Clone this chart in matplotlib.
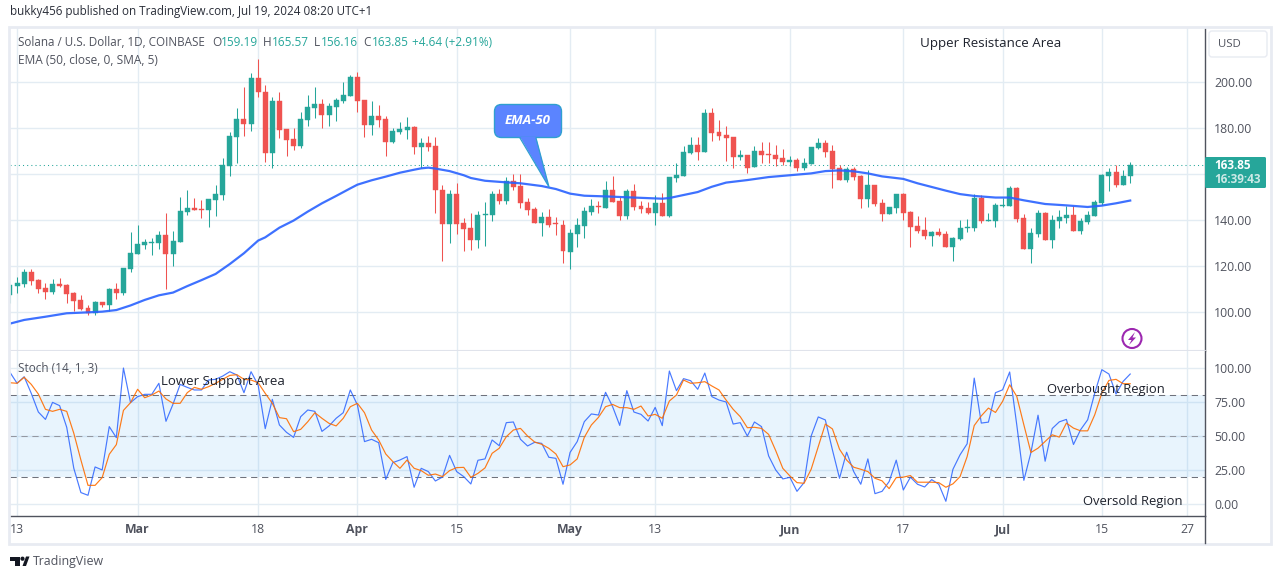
import numpy as np
import matplotlib
matplotlib.use("Agg")
import matplotlib.pyplot as plt
from matplotlib.patches import FancyBboxPatch, Polygon, Circle, Rectangle

W, H = 1281, 579

# candles, one per day, first one is Feb 12 2024
opens = [107.5, 111.6, 112.3, 117.7, 114, 110.7, 108.8, 112.3, 111.9, 108.4,
         105.4, 101.7, 99.9, 104.5, 103.2, 110.1, 108.4, 118.8, 125.5, 129.3,
         130.3, 130.1, 133.6, 125.5, 130.6, 143.6, 145.4, 144.9, 144.5, 148.8,
         151, 163.8, 176.2, 184.1, 181.9, 201.9, 195.8, 169.3, 191.9, 179.7,
         175.4, 172.3, 183.6, 188.8, 190.6, 185.8, 189.3, 191.9, 194.1, 202.3,
         192.3, 181.4, 185.4, 184.1, 174.1, 178.4, 179.3, 180.6, 172, 173.6,
         172.3, 153.2, 138.4, 151.4, 138.8, 136.7, 131.4, 142.3, 142.3, 151.4,
         148.4, 157.1, 154.9, 148, 144.9, 138.8, 141.4, 138.8, 138, 126.2,
         134.1, 137.5, 143.6, 146.2, 145.4, 153.2, 148.4, 141.9, 152.8, 146.2,
         145.4, 143.2, 147.5, 141.9, 158.4, 159.3, 169.3, 172.8, 169.7, 186.7,
         178.4, 177.1, 176.2, 167.5, 168.4, 163.2, 170.1, 168.8, 168.4, 167.1,
         165.4, 166.2, 162.8, 164.5, 171.4, 173.6, 170.1, 162.8, 157.5, 162.3,
         159.3, 149.3, 155.4, 147.5, 142.8, 145.4, 151.4, 143.6, 137.5, 135.8,
         133.2, 134.9, 134.1, 128.4, 131.9, 136.7, 136.7, 149.7, 139.7, 139.7,
         146.2, 146.2, 154.1, 141, 127.5, 134.1, 143.2, 131.4, 139.7, 141,
         142.3, 135.4, 139.3, 141.9, 147.5, 159.3, 161, 155.4, 159.19]
highs = [112, 115.5, 118.8, 118.8, 114.6, 112.9, 114.6, 114.9, 112.5, 108.8,
         107.4, 103.2, 104.9, 104.5, 110.7, 112.8, 119.3, 134.9, 138, 131.9,
         132.2, 135.4, 143.3, 135.4, 150.1, 153.2, 149.7, 148.8, 149.3, 155.4,
         167.1, 178.4, 188.8, 198, 204.1, 210.1, 198.8, 193.6, 195.8, 179.7,
         180.1, 187.1, 194.5, 198, 192.8, 191, 193.2, 200.1, 203.2, 204.5,
         192.3, 191.9, 190.1, 185.4, 180.1, 182.8, 184.9, 181, 175.8, 176.7,
         176.2, 155.4, 153.2, 156.2, 141, 143.2, 144.1, 148, 152.8, 153.6,
         158.8, 160.1, 160.1, 149.7, 145.8, 143.6, 144.9, 141.4, 140.1, 136.2,
         141, 145.8, 149.3, 148.4, 157.1, 159.3, 150.1, 153.6, 155.8, 148.4,
         148, 151, 151.9, 158.8, 164.9, 172.3, 176.2, 176.2, 188.4, 188.8,
         183.6, 181, 176.2, 170.6, 168.4, 172.3, 174.1, 174.1, 172.8, 171,
         168, 167.1, 167.1, 171.9, 175.8, 175, 172.8, 164.1, 163.2, 163.2,
         159.7, 161.9, 155.4, 149.3, 145.8, 151.4, 151.9, 144.1, 141.9, 141.4,
         135.4, 136.7, 135.4, 132.8, 140.1, 140.6, 151.4, 151, 143.2, 147.5,
         149.7, 154.9, 154.5, 142.8, 136.7, 144.5, 143.6, 142.3, 144.5, 146.2,
         146.2, 141, 144.1, 148.8, 160.1, 162.8, 164.1, 161.9, 165.57]
lows = [104, 108.3, 111.2, 111.9, 108.5, 105.8, 108.1, 110.9, 104.2, 100.6,
        101, 99, 99, 102.3, 100.6, 105.9, 107.7, 117.7, 125.5, 127.5,
        124.9, 127.5, 110.1, 120.1, 130.6, 142.3, 144.3, 141, 137.1, 141.9,
        148.8, 159.3, 164.9, 176.7, 178.8, 193.6, 165.4, 162.8, 175.8, 168,
        170.6, 171.4, 181, 184.5, 180.1, 181, 183.2, 191, 194.1, 187.1,
        176.2, 177.1, 180.6, 168, 173.6, 177.5, 175.4, 168.8, 162.8, 170.1,
        143.2, 122.3, 130.1, 134.1, 126.7, 127.1, 128, 128.8, 139.7, 147.1,
        147.1, 153.2, 145.4, 142.3, 138.8, 133.2, 137.1, 133.6, 121.4, 118.8,
        128.4, 132.3, 142.3, 143.2, 145.4, 148, 140.1, 140.6, 144.5, 143.2,
        142.8, 138, 141.9, 141.4, 156.7, 159.3, 168.8, 166.2, 169.7, 174.5,
        174.9, 165.8, 162.8, 166.2, 160.6, 163.2, 164.9, 164.9, 163.6, 164.1,
        163.6, 161.4, 161.9, 164.5, 171, 167.5, 154.1, 157.5, 156.7, 157.5,
        145.4, 145.8, 146.2, 139.7, 142.8, 143.2, 140.1, 128.4, 134.5, 131.9,
        128.8, 133.2, 128.4, 122.3, 131.4, 134.9, 135.4, 138.8, 139.7, 137.1,
        145.8, 146.2, 139.3, 127.5, 121.4, 132.8, 131.4, 128, 136.7, 138.8,
        135.4, 134.1, 138.4, 141.9, 146.7, 152.8, 154.5, 155.4, 156.16]
closes = [111.9, 112.8, 117.7, 113.6, 110.1, 108.8, 112.3, 111.4, 108.1, 105.1,
          101.6, 99.9, 104.5, 103.3, 110.1, 108.4, 119.3, 125.8, 129.7, 130.6,
          130.6, 133.6, 125.5, 131, 144.1, 145.4, 144.3, 144.5, 149.3, 151.4,
          164.1, 176.7, 184.1, 181.9, 201.9, 195.8, 169.3, 191.9, 179.3, 174.9,
          172.3, 184.1, 189.3, 190.6, 185.8, 189.7, 192.3, 194.5, 202.3, 191.9,
          181.4, 185.4, 183.6, 174.1, 178.8, 179.7, 180.6, 171.9, 173.6, 171.9,
          153.2, 138.4, 151.4, 138.4, 136.2, 131.4, 142.3, 142.8, 151.4, 148.4,
          157.1, 154.5, 147.5, 144.5, 138.8, 141.4, 138, 138.4, 126.7, 134.5,
          138, 144.1, 146.2, 145.9, 153.2, 148, 141.9, 152.8, 145.8, 144.9,
          143.2, 147.5, 141.9, 158.8, 159.7, 169.7, 172.8, 169.7, 186.7, 178,
          176.7, 175.8, 167.5, 168.4, 162.8, 170.1, 168.4, 168.4, 166.7, 165.4,
          166.2, 162.8, 164.9, 171.9, 173.6, 169.7, 162.3, 157.5, 162.3, 158.8,
          149.3, 155.4, 147.1, 142.8, 145.8, 151.4, 143.2, 137.1, 135.4, 133.2,
          134.9, 133.6, 128.4, 132.3, 136.7, 137.1, 149.7, 139.7, 140.1, 146.7,
          146.7, 154.1, 140.6, 127.5, 134.5, 143.2, 131.4, 140.1, 141.4, 142.3,
          135.4, 139.7, 142.3, 148, 159.7, 161, 155.4, 159.3, 163.85]

ema_days = [0, 2, 5, 8, 11, 13, 15, 17, 19, 21, 23, 25, 27, 29, 31, 33, 35, 36, 38, 40,
            42, 44, 46, 48, 49, 51, 53, 55, 57, 58, 59, 60, 62, 64, 65, 67, 70, 72, 75, 77,
            79, 81, 84, 88, 92, 93, 95, 97, 99, 101, 104, 107, 110, 113, 115, 117, 119, 121, 123, 126,
            128, 130, 132, 134, 136, 139, 141, 143, 146, 149, 152, 154, 156, 158]
ema_values = [95.1, 96.7, 98.1, 99.6, 100, 100.3, 101, 103, 105.4, 107.4,
              108.6, 111.4, 114, 116.7, 121, 125.7, 131.2, 132.6, 136.8, 139.9,
              143.8, 147.4, 150.6, 153.9, 155.5, 157.4, 159, 160.7, 162, 162.6,
              162.9, 162.5, 161.4, 159.6, 158.4, 157.2, 156.5, 156.1, 154.9, 153.6,
              151.6, 150.7, 150.4, 149.9, 149.4, 149.7, 151, 152.3, 154.6, 156.4,
              157.5, 158.8, 159.6, 160.4, 161.4, 161.7, 161.3, 160.4, 159.1, 158,
              156.1, 154.5, 152.9, 151.4, 150.6, 149.9, 149.9, 148.7, 147.1, 146.5,
              145.8, 146.4, 147.4, 148.6]

stoch_k = [96.8, 88.8, 93.6, 81.4, 67.7, 62.3, 74.8, 72.4, 56.5, 26.4,
           8.6, 6.6, 27.4, 25.2, 57, 48.9, 100, 74.6, 79, 80.7,
           80.7, 88.8, 60.9, 73.6, 88, 85.8, 83.9, 83.9, 91.2, 91.7,
           94.1, 97.3, 94.9, 81.9, 97.3, 87.5, 55.5, 77, 58.2, 52.8,
           49.1, 64.3, 69.2, 68.2, 53.5, 57.5, 63.1, 67.2, 83.9, 72.9,
           46, 47.7, 45.2, 18.3, 30.6, 32.5, 35, 12.5, 26.4, 24,
           17.1, 20, 35.9, 24, 20.3, 14.9, 32.3, 33.3, 47.2, 43,
           59.9, 60.4, 47.7, 42.8, 45.5, 44.7, 34.5, 33.7, 14.7, 38.1,
           46, 60.6, 66.3, 65.5, 82.2, 71.6, 57.9, 83.4, 67.7, 66,
           61.1, 71.1, 57.7, 97.8, 83.4, 92.2, 90.7, 84.4, 96.3, 79,
           76.5, 75.1, 58.9, 59.9, 50.1, 60.4, 57, 35.5, 25.2, 18.6,
           19.8, 9.5, 15.9, 50.1, 64.1, 61.9, 39.9, 19.1, 38.2, 24,
           14.7, 33.3, 7.8, 9.5, 16.7, 32.4, 10.5, 19.9, 14.7, 12.7,
           18.1, 14.7, 2.2, 25.7, 36.3, 44.4, 92.6, 59.6, 60.3, 81.9,
           84, 97.1, 58.3, 17.6, 38, 65.4, 31.6, 55.6, 60.5, 62.3,
           43.9, 54.7, 62, 81.6, 98.8, 95.6, 80.9, 90.2, 95.6]
stoch_d = [89.2, 88.8, 93.2, 88, 80.9, 69.7, 68.2, 69.7, 68.2, 52.1,
           32.5, 13.9, 13.9, 19.6, 36.7, 43.8, 68.9, 74.6, 84.4, 78.2,
           80.2, 83.1, 77.3, 74.1, 74.1, 81.9, 85.8, 84.4, 86.3, 88.8,
           91.7, 94.6, 95.1, 91.7, 91.2, 89.2, 81.4, 74.1, 63.6, 62.8,
           53.3, 55, 60.6, 67.2, 63.1, 59.4, 57.5, 63.1, 71.6, 74.1,
           67.2, 54.5, 47.2, 36.9, 31.3, 26.4, 32.5, 26.4, 24.7, 21.3,
           22.2, 20.3, 24.7, 26.9, 27.1, 19.8, 22.7, 26.7, 37.4, 41.1,
           49.6, 54.5, 55.7, 50.1, 45.7, 44, 41.1, 36.9, 27.6, 28.9,
           33.3, 49.1, 58.2, 63.8, 71.6, 73.3, 70.9, 70.9, 69.7, 72.1,
           64.8, 66, 63.1, 75.8, 80.2, 91.2, 88.8, 89.2, 90, 86.8,
           83.9, 76.5, 69.7, 64.3, 56.2, 56.5, 55.7, 51.3, 39.4, 26.4,
           20.8, 15.9, 15.4, 25.7, 42.3, 58.9, 55.3, 40.4, 32.5, 27.2,
           25.7, 24, 19.1, 17.2, 11.5, 19.6, 19.9, 21.1, 16.2, 16.2,
           16.2, 15.9, 12.5, 15, 20.3, 35, 57.8, 64.9, 70.6, 67.4,
           75.5, 87.7, 79.2, 58.3, 38, 41.2, 46.1, 51, 49.3, 59.6,
           55.9, 53.9, 53.9, 65.7, 81.6, 90.9, 91.7, 88.5, 88.5]

date_ticks = [1, 18, 35, 49, 63, 79, 91, 110, 126, 140, 154, 166]
date_labels = ["13", "Mar", "18", "Apr", "15", "May", "13", "Jun", "17", "Jul", "15", "27"]
price_ticks = [100, 120, 140, 160, 180, 200]
stoch_ticks = [0, 25, 50, 75, 100]
last_price = 163.85

UP = "#26a69a"
DOWN = "#ef5350"
GRID = "#e3ecf3"
TXT = "#50535e"

plt.rcParams["font.family"] = ["Open Sans", "DejaVu Sans"]


def pane(x0, y0, x1, y1):
    return fig.add_axes([x0 / W, 1 - y1 / H, (x1 - x0) / W, (y1 - y0) / H])


fig = plt.figure(figsize=(W / 100, H / 100), dpi=100, facecolor="white")

# price pane
ax = pane(10, 28, 1205, 351)
days = np.arange(len(opens))
colors = [UP if c >= o else DOWN for o, c in zip(opens, closes)]
ax.vlines(days, lows, highs, colors=colors, lw=0.75, zorder=3)
ax.bar(days, np.abs(np.array(closes) - np.array(opens)), bottom=np.minimum(opens, closes),
       width=0.7, color=colors, edgecolor=colors, lw=0.3, zorder=4)
ax.plot(ema_days, ema_values, color="#2962ff", lw=1.6, alpha=0.9, zorder=5)
ax.axhline(last_price, color=UP, lw=0.75, ls=(0, (1, 3)), zorder=2)
ax.set_xlim(0, 168.55)
ax.set_ylim(83.2, 223.6)
ax.set_yticks(price_ticks)
# the 160 label sits behind the last price tag
ax.set_yticklabels(["" if p == 160 else "%.2f" % p for p in price_ticks])
ax.set_xticks(date_ticks)
ax.tick_params(axis="x", length=0, labelbottom=False)

# stochastic pane
ax2 = pane(10, 351, 1205, 516)
ax2.axhspan(20, 80, color="#2196f3", alpha=0.1, lw=0, zorder=1)
for level, col in zip([80, 50, 20], ["#6f727c", "#9598a1", "#6f727c"]):
    ax2.axhline(level, color=col, lw=0.75, ls=(0, (6, 4.5)), zorder=2)
ax2.plot(days, stoch_k, color="#2962ff", lw=0.85, alpha=0.85, zorder=3)
ax2.plot(days, stoch_d, color="#ff6d00", lw=0.85, alpha=0.9, zorder=4)
ax2.set_xlim(0, 168.55)
ax2.set_ylim(-8.6, 112.5)
ax2.set_yticks(stoch_ticks)
ax2.set_yticklabels(["%.2f" % s for s in stoch_ticks])
ax2.set_xticks(date_ticks)
ax2.set_xticklabels(date_labels)
for lab, txt in zip(ax2.get_xticklabels(), date_labels):
    if not txt.isdigit():
        lab.set_fontweight("bold")

for a in (ax, ax2):
    a.set_axisbelow(True)
    a.grid(True, color=GRID, lw=1.0)
    a.yaxis.tick_right()
    a.tick_params(axis="y", length=0, labelsize=8.8, labelcolor=TXT, pad=6.5)
    a.tick_params(axis="x", length=0, labelsize=8.8, labelcolor=TXT, pad=5)
    for s in ("top", "left"):
        a.spines[s].set_visible(False)
    a.spines["right"].set_color(TXT)
    a.spines["right"].set_linewidth(1.0)
ax.spines["bottom"].set_color("#e0e3eb")
ax.spines["bottom"].set_linewidth(1.5)
ax2.spines["bottom"].set_color(TXT)
ax2.spines["bottom"].set_linewidth(1.0)

# everything else sits on a pixel overlay
top = fig.add_axes([0, 0, 1, 1], zorder=10)
top.set_xlim(0, W)
top.set_ylim(H, 0)
top.axis("off")

# outer frame
top.add_patch(Rectangle((8.7, 27), 1262.5, 517, fill=False, ec="#e8ebf2", lw=2))
top.plot([1205, 1205], [516, 543], color=TXT, lw=1.0)

top.text(10, 11, "bukky456 published on TradingView.com, Jul 19, 2024 08:20 UTC+1",
         fontsize=8.4, color="#2a2e39", va="center")

# legend line
y = 42.5
top.text(18, y, "Solana / U.S. Dollar, 1D, COINBASE", fontsize=8.4, color=TXT, va="center")
for xpos, txt, col in [(212, "O", TXT), (221, "159.19", UP), (263, "H", TXT), (272, "165.57", UP),
                       (314, "L", TXT), (321, "156.16", UP), (363, "C", TXT), (372, "163.85", UP),
                       (412, "+4.64 (+2.91%)", UP)]:
    top.text(xpos, y, txt, fontsize=8.5, color=col, va="center")
top.text(18, 60, "EMA (50, close, 0, SMA, 5)", fontsize=8.6, color=TXT, va="center")
top.text(18, 368, "Stoch (14, 1, 3)", fontsize=8.5, color=TXT, va="center")

# drawn labels
for xpos, ypos, txt, size in [(920, 43.5, "Upper Resistance Area", 9.6), (161, 381, "Lower Support Area", 9.5),
                              (1047, 390, "Overbought Region", 9.4), (1083, 501.5, "Oversold Region", 9.4)]:
    top.text(xpos, ypos, txt, fontsize=size, color="#1e222d", va="center")

# EMA-50 callout
top.add_patch(FancyBboxPatch((500, 110), 56, 22, boxstyle="round,pad=5.5,rounding_size=7",
                             fc="#5b84ff", ec="#2f9fd0", lw=1.0, zorder=5))
top.add_patch(Polygon([(520, 137), (536, 137), (549, 187)], closed=True, fc="#5b84ff", ec="none", zorder=6))
top.plot([520, 549, 536], [138, 187, 138], color="#2f9fd0", lw=0.9, zorder=6)
top.text(528, 120.5, "EMA-50", fontsize=9.5, color="white", style="italic", fontweight="bold",
         ha="center", va="center", zorder=7)

# price tag and currency button
top.add_patch(FancyBboxPatch((1205, 157), 61, 31, boxstyle="round,pad=0,rounding_size=1.5", fc=UP, ec="none"))
top.text(1214, 165.5, "163.85", fontsize=8.5, color="white", fontweight="bold", va="center")
top.text(1214, 179.5, "16:39:43", fontsize=8.5, color="#cdeae7", fontweight="bold", va="center")
top.add_patch(FancyBboxPatch((1209, 31), 58, 26, boxstyle="round,pad=0,rounding_size=3", fc="white", ec="#e8ebf2", lw=1))
top.text(1218, 44.5, "USD", fontsize=8.2, color=TXT, va="center")

# lightning icon
top.add_patch(Circle((1132, 338.5), 9.5, fc="white", ec="#9c27b0", lw=1.5))
top.add_patch(Polygon([(1135, 332), (1128, 340), (1131.5, 340), (1129, 345), (1136, 337.5), (1132.5, 337.5)],
                      closed=True, fc="#9c27b0", ec="none"))

# footer logo
top.add_patch(Polygon([(10, 556.5), (20, 556.5), (20, 566), (15, 566), (15, 560.5), (10, 560.5)],
                      closed=True, fc="#131722", ec="none"))
top.add_patch(Circle((22.5, 558.7), 2.1, fc="#131722", ec="none"))
top.add_patch(Polygon([(22.5, 566), (26, 556.5), (29.5, 556.5), (26, 566)], closed=True, fc="#131722", ec="none"))
top.text(33, 561.5, "TradingView", fontsize=8.9, color="#50535e", va="center")

fig.savefig("out.png", dpi=100)
